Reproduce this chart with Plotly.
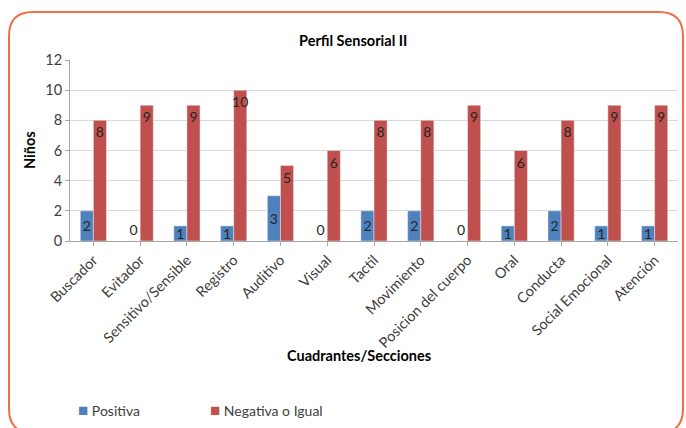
import plotly.graph_objects as go

categories = ["Buscador", "Evitador", "Sensitivo/Sensible", "Registro", "Auditivo", "Visual",
              "Tactil", "Movimiento", "Posicion del cuerpo", "Oral", "Conducta",
              "Social Emocional", "Atención"]
positiva = [2, 0, 1, 1, 3, 0, 2, 2, 0, 1, 2, 1, 1]
negativa = [8, 9, 9, 10, 5, 6, 8, 8, 9, 6, 8, 9, 9]
y_ticks = [0, 2, 4, 6, 8, 10, 12]
series_names = ["Positiva", "Negativa o Igual"]
series_colors = ["#4F81BD", "#C0504D"]

W, H = 686, 428
L, R, T, B = 70, 8, 60, 187
PW, PH = W - L - R, H - T - B


def px(x):
    return (x - L) / PW


def py(y):
    return (H - B - y) / PH


FONT = "Lato"
TXT = "#262626"

fig = go.Figure()
fig.add_trace(go.Bar(
    x=categories, y=positiva, name=series_names[0],
    marker=dict(color=series_colors[0]),
    text=[str(v) for v in positiva],
    textposition=["outside" if v == 0 else "inside" for v in positiva],
    insidetextanchor="middle", textangle=0, constraintext="none", cliponaxis=False,
    textfont=dict(family=FONT, size=14, color=TXT),
))
fig.add_trace(go.Bar(
    x=categories, y=negativa, name=series_names[1],
    marker=dict(color=series_colors[1]),
    text=[str(v) for v in negativa],
    textposition="inside", insidetextanchor="end", textangle=0, constraintext="none",
    textfont=dict(family=FONT, size=14, color=TXT),
))

# rounded orange border
x0, x1, y0, y1, r = 9, 683, 12, 433, 24
path = (f"M {px(x0 + r)},{py(y0)} L {px(x1 - r)},{py(y0)} Q {px(x1)},{py(y0)} {px(x1)},{py(y0 + r)} "
        f"L {px(x1)},{py(y1 - r)} Q {px(x1)},{py(y1)} {px(x1 - r)},{py(y1)} "
        f"L {px(x0 + r)},{py(y1)} Q {px(x0)},{py(y1)} {px(x0)},{py(y1 - r)} "
        f"L {px(x0)},{py(y0 + r)} Q {px(x0)},{py(y0)} {px(x0 + r)},{py(y0)} Z")

legend_x = [76, 208]
legend_ann = [
    dict(text=f"<span style='color:{c};font-size:17px'>■</span> {n}", xref="paper", yref="paper",
         x=px(lx), y=py(409), xanchor="left", yanchor="middle", showarrow=False,
         font=dict(family=FONT, size=14, color="#404040"))
    for n, c, lx in zip(series_names, series_colors, legend_x)
]

fig.update_layout(
    width=W, height=H,
    margin=dict(l=L, r=R, t=T, b=B),
    paper_bgcolor="white", plot_bgcolor="white",
    barmode="group", bargap=0.44, bargroupgap=0,
    font=dict(family=FONT, size=13, color="#404040"),
    showlegend=False,
    xaxis=dict(tickangle=-45, showline=True, linecolor="#A6A6A6", ticks="outside",
               tickcolor="#A6A6A6", ticklen=4,
               tickfont=dict(family=FONT, size=14.5, color="#404040")),
    yaxis=dict(range=[0, 12], tickvals=y_ticks, showgrid=True, gridcolor="#D9D9D9",
               showline=True, linecolor="#A6A6A6", ticks="outside", tickcolor="#A6A6A6",
               ticklen=4, zeroline=False,
               tickfont=dict(family=FONT, size=14.5, color="#404040")),
    shapes=[dict(type="path", xref="paper", yref="paper", path=path,
                 line=dict(color="#EE7046", width=2), fillcolor="rgba(0,0,0,0)", layer="below")],
    annotations=[
        dict(text="<b>Perfil Sensorial II</b>", xref="paper", yref="paper", x=px(353), y=py(30),
             showarrow=False, font=dict(family=FONT, size=14.5, color="#000000")),
        dict(text="<b>Cuadrantes/Secciones</b>", xref="paper", yref="paper", x=px(359), y=py(366),
             showarrow=False, font=dict(family=FONT, size=14.5, color="#000000")),
        dict(text="<b>Niños</b>", xref="paper", yref="paper", x=px(29), y=py(150),
             xanchor="center", yanchor="middle",
             showarrow=False, textangle=-90, font=dict(family=FONT, size=14.5, color="#000000")),
    ] + legend_ann,
)

fig.write_html("out.html")
